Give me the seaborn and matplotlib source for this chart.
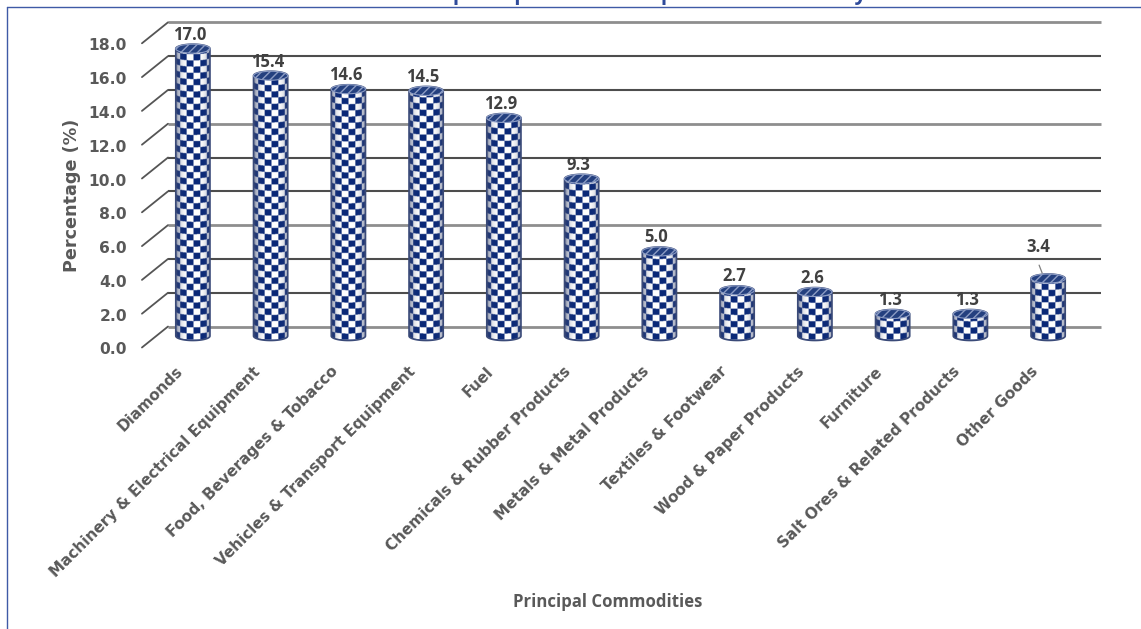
import numpy as np
import matplotlib
matplotlib.use("Agg")
import matplotlib.pyplot as plt
from matplotlib.lines import Line2D
from matplotlib.patches import Polygon, Ellipse
from matplotlib.transforms import ScaledTranslation
import seaborn as sns

categories = ["Diamonds", "Machinery & Electrical Equipment", "Food, Beverages & Tobacco",
              "Vehicles & Transport Equipment", "Fuel", "Chemicals & Rubber Products",
              "Metals & Metal Products", "Textiles & Footwear", "Wood & Paper Products",
              "Furniture", "Salt Ores & Related Products", "Other Goods"]
values = [17.0, 15.4, 14.6, 14.5, 12.9, 9.3, 5.0, 2.7, 2.6, 1.3, 1.3, 3.4]
y_ticks = [0, 2, 4, 6, 8, 10, 12, 14, 16, 18]
title_text = "Principal Exports of Principal Commodities by Value"
x_title = "Principal Commodities"
y_title = "Percentage (%)"

W, H = 1141, 629
sns.set_theme(style="white")
plt.rcParams["font.family"] = ["Open Sans", "DejaVu Sans"]
plt.rcParams["hatch.linewidth"] = 1.0

fig = plt.figure(figsize=(W / 100, H / 100), dpi=100, facecolor="white")
ax = fig.add_axes([154 / W, (H - 336) / H, 933 / W, 304.2 / H])
ax.patch.set_alpha(0)
PX_Y = 304.2 / 18          # pixels per data unit, vertical
PX_X = 933 / 12            # pixels per category, horizontal
NAVY = np.array([0.04, 0.16, 0.47])
WHITE = np.array([1.0, 1.0, 1.0])

sns.barplot(x=categories, y=values, ax=ax, width=0.44, color="white", saturation=1, zorder=2)
bars = list(ax.containers[0])
for b in bars:
    b.set_alpha(0)

# back wall gridlines and the diagonal floor ticks
back = 0.56
front = -0.68
x_back0, x_back1 = -0.32, 11.68
x_front = -0.655
grid_style = {18: 0, 16: 1, 14: 1, 12: 0, 10: 1, 8: 1, 6: 0, 4: 1, 2: 1, 0: 0}
for t in y_ticks:
    gray = grid_style[t] == 0
    ax.plot([x_back0, x_back1], [t + back, t + back], color="#8e8e8e" if gray else "#4d4d4d",
            lw=2.0 if gray else 1.5, clip_on=False, zorder=1, solid_capstyle="butt")
    ax.plot([x_front, x_back0], [t + front, t + back], color="#555555", lw=1.3, clip_on=False, zorder=1)


def cylinder(bar):
    x0, w, top = bar.get_x(), bar.get_width(), bar.get_height()
    hh = 4.5 / PX_Y
    t = np.linspace(0, np.pi, 40)
    xc = x0 + w / 2
    lower = np.c_[xc - w / 2 * np.cos(t), -hh * np.sin(t)]
    upper = np.c_[xc + w / 2 * np.cos(t), top + hh * np.sin(t)]
    clip = Polygon(np.vstack([lower, upper]), closed=True, fc="none", ec="#3a4a78", lw=1.2,
                   zorder=4, clip_on=False)
    ax.add_patch(clip)

    # checker texture, wrapped around the cylinder
    nx, ny = int(w * PX_X * 3), int((top + 2 * hh) * PX_Y * 3)
    u = np.linspace(-1, 1, nx)
    yy = np.linspace(-hh, top + hh, ny)
    U, Y = np.meshgrid(u, yy)
    s = 0.5 * U + 0.5 * np.arcsin(U) / (np.pi / 2)
    col = np.floor((s + 1) * 3).astype(int)
    row = np.floor((Y * PX_Y + 3.0 * np.sqrt(1 - U ** 2) + 20) / 6.2).astype(int)
    chk = ((col + row) % 2)[..., None]
    img = chk * NAVY + (1 - chk) * WHITE
    shade = (np.abs(U) ** 4)[..., None]
    img = img * (1 - 0.7 * shade) + np.array([0.25, 0.30, 0.45]) * 0.7 * shade
    im = ax.imshow(img, extent=[x0, x0 + w, -hh, top + hh], origin="lower", aspect="auto",
                   interpolation="bilinear", zorder=3)
    im.set_clip_box(fig.bbox)
    im.set_clip_path(clip)

    cap = Ellipse((xc, top), w, 2 * hh, fc="#24407f", ec="#8c9cc4", lw=0.8, zorder=5,
                  hatch="////", clip_on=False)
    ax.add_patch(cap)


for b in bars:
    cylinder(b)

# value labels
for i, (b, v) in enumerate(zip(bars, values)):
    xc = b.get_x() + b.get_width() / 2
    other = categories[i] == "Other Goods"
    dx, dy = (-10, 23) if other else (-3, 5)
    ax.annotate(f"{v:.1f}", (xc, v), xytext=(dx * 0.72, dy * 0.72), textcoords="offset points",
                ha="center", va="bottom", fontsize=12, fontweight="bold", color="#404040",
                family=["Open Sans", "DejaVu Sans"], zorder=6, annotation_clip=False)
    if other:
        ax.annotate("", (xc - 5 / PX_X, v + 3 / PX_Y), xytext=(xc - 10 / PX_X, v + 16 / PX_Y),
                    arrowprops=dict(arrowstyle="-", color="#808080", lw=0.9), zorder=6,
                    annotation_clip=False)

# axes
ax.set_xlim(-0.5, 11.5)
ax.set_ylim(0, 18)
for sp in ax.spines.values():
    sp.set_visible(False)
ax.set_yticks(y_ticks)
ax.set_yticklabels([f"{t:.1f}" for t in y_ticks], fontsize=11.2, fontweight="bold", color="#595959",
                   family=["DejaVu Sans"])
ax.tick_params(axis="y", length=0, pad=19.5)
off = ScaledTranslation(0, -12.5 / 100, fig.dpi_scale_trans)
for lab in ax.get_yticklabels():
    lab.set_transform(lab.get_transform() + off)
ax.set_xticks(range(len(categories)))
ax.set_xticklabels(categories, rotation=45, ha="right", rotation_mode="anchor", fontsize=11,
                   fontweight="bold", color="#595959", family=["DejaVu Sans"])
ax.tick_params(axis="x", length=0, pad=20)
off_x = ScaledTranslation(-18 / 100, 0, fig.dpi_scale_trans)
for lab in ax.get_xticklabels():
    lab.set_transform(lab.get_transform() + off_x)
ax.set_xlabel("")
ax.set_ylabel("")

fig.text(72 / W, 1 - 195 / H, y_title, rotation=90, ha="center", va="center", fontsize=12.7,
         fontweight="bold", color="#595959", family=["DejaVu Sans"])
fig.text(608 / W, 1 - 602 / H, x_title, ha="center", va="center", fontsize=12.1,
         fontweight="bold", color="#595959")
fig.text(393 / W, 1.0, title_text, ha="left", va="baseline", fontsize=15, fontweight="bold",
         color="#2f4b9b")

# outer frame, open at the right and bottom
frame = "#3f5aa6"
fig.add_artist(Line2D([7 / W, 7 / W], [0, 1 - 7 / H], color=frame, lw=1.0))
fig.add_artist(Line2D([7 / W, 1], [1 - 7 / H, 1 - 7 / H], color=frame, lw=1.0))

fig.savefig("out.png", dpi=100)
